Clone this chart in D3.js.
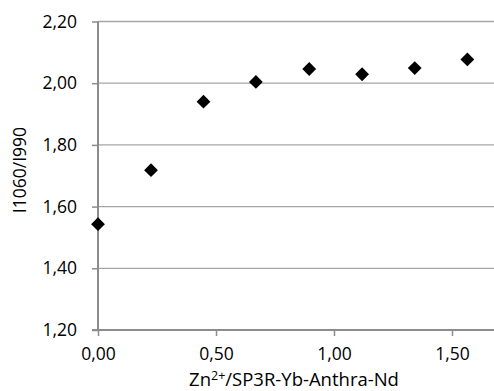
<!DOCTYPE html>
<html><head><meta charset="utf-8">
<script src="https://cdn.jsdelivr.net/npm/d3@7"></script>
<style>
html,body{margin:0;padding:0;background:#fff;overflow:hidden}
text{font-family:"Open Sans",sans-serif;fill:#000}
</style></head>
<body>
<svg id="c" width="494" height="391"></svg>
<script>
const xValues = [0, 0.2246, 0.447, 0.669, 0.895, 1.119, 1.342, 1.565];
const yValues = [1.543, 1.718, 1.940, 2.004, 2.046, 2.029, 2.049, 2.077];
const xTicks = [0, 0.5, 1.0, 1.5];
const yTicks = [1.2, 1.4, 1.6, 1.8, 2.0, 2.2];
const xTitleParts = ["Zn", "2+", "/SP3R-Yb-Anthra-Nd"];
const yTitle = "I1060/I990";

const FS = 17.5;
const svg = d3.select("#c");
const fmt = v => d3.format(".2f")(v).replace(".", ",");
const x = d3.scaleLinear().domain([0, 1.75]).range([98, 98 + 1.75 * 236]);
const y = d3.scaleLinear().domain([1.2, 2.2]).range([330, 21.5]);
const x0 = 98, x1 = 494;

// gridlines
svg.append("g").selectAll("line").data(yTicks.filter(d => d > 1.2)).join("line")
  .attr("x1", x0).attr("x2", x1).attr("y1", d => y(d)).attr("y2", d => y(d))
  .attr("stroke", "#a6a6a6").attr("stroke-width", 1.3);

// y axis
const ya = svg.append("g").attr("transform", `translate(${x0},0)`)
  .call(d3.axisLeft(y).tickValues(yTicks).tickFormat(fmt).tickSize(6).tickPadding(15));
ya.attr("font-size", FS).attr("font-family", "Open Sans");
ya.select(".domain").attr("stroke", "#8c8c8c").attr("stroke-width", 2).attr("d", `M0,${y(1.2)}V${y(2.2)}`);
ya.selectAll(".tick line").attr("stroke", "#8c8c8c").attr("stroke-width", 1.5);
ya.selectAll(".tick text").attr("fill", "#000");

// x axis
const xa = svg.append("g").attr("transform", `translate(0,${y(1.2)})`)
  .call(d3.axisBottom(x).tickValues(xTicks).tickFormat(fmt).tickSize(6).tickPadding(12));
xa.attr("font-size", FS).attr("font-family", "Open Sans");
xa.select(".domain").attr("stroke", "#8c8c8c").attr("stroke-width", 2).attr("d", `M${x0 - 6},0H${x1}`);
xa.selectAll(".tick line").attr("stroke", "#8c8c8c").attr("stroke-width", 1.5);
xa.selectAll(".tick text").attr("fill", "#000");

// points
const sym = d3.symbol(d3.symbolSquare, 95);
svg.append("g").selectAll("path").data(xValues.map((v, i) => [v, yValues[i]])).join("path")
  .attr("d", sym)
  .attr("transform", d => `translate(${x(d[0])},${y(d[1])}) rotate(45)`)
  .attr("fill", "#000");

// titles
const xt = svg.append("text").attr("x", 294).attr("y", 385.5).attr("text-anchor", "middle")
  .attr("font-size", 18.5);
xt.append("tspan").text(xTitleParts[0]);
xt.append("tspan").attr("font-size", 12.5).attr("dy", -6).text(xTitleParts[1]);
xt.append("tspan").attr("dy", 6).text(xTitleParts[2]);
svg.append("text").attr("transform", `translate(26,170) rotate(-90)`).attr("text-anchor", "middle")
  .attr("font-size", FS).text(yTitle);
</script>
</body></html>
